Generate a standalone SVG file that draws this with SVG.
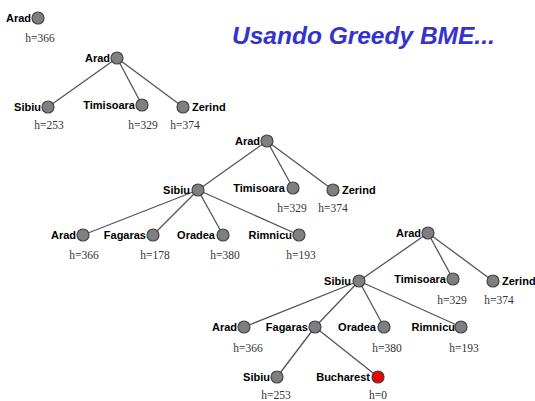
<svg xmlns="http://www.w3.org/2000/svg" width="535" height="401" viewBox="0 0 535 401">
<style>
.n{fill:#7f7f7f;stroke:#444;stroke-width:1.2}
.r{fill:#ee0000;stroke:#444;stroke-width:1.2}
.l{font-family:"Liberation Sans",Arial,sans-serif;font-weight:bold;font-size:11px;fill:#000;text-anchor:end}
.lr{font-family:"Liberation Sans",Arial,sans-serif;font-weight:bold;font-size:11px;fill:#000;text-anchor:start}
.h{font-family:"Liberation Serif","Times New Roman",serif;font-size:11.5px;fill:#333;text-anchor:middle}
.e{stroke:#555;stroke-width:1.3;fill:none}
.t{font-family:"Liberation Sans",Arial,sans-serif;font-weight:bold;font-style:italic;font-size:24.5px;fill:#3434c8}
</style>
<rect width="535" height="401" fill="#fff"/>
<text class="t" x="232" y="44">Usando Greedy BME...</text>
<g id="connectors">
<line class="e" x1="117" y1="58" x2="48" y2="107"/>
<line class="e" x1="117" y1="58" x2="142" y2="105"/>
<line class="e" x1="117" y1="58" x2="183" y2="107"/>
<line class="e" x1="267" y1="141" x2="198" y2="190"/>
<line class="e" x1="267" y1="141" x2="293" y2="188"/>
<line class="e" x1="267" y1="141" x2="333" y2="190"/>
<line class="e" x1="198" y1="190" x2="83" y2="235"/>
<line class="e" x1="198" y1="190" x2="153" y2="235"/>
<line class="e" x1="198" y1="190" x2="223" y2="235"/>
<line class="e" x1="198" y1="190" x2="299" y2="235"/>
<line class="e" x1="428" y1="233" x2="359" y2="281"/>
<line class="e" x1="428" y1="233" x2="453" y2="279"/>
<line class="e" x1="428" y1="233" x2="493" y2="281"/>
<line class="e" x1="359" y1="281" x2="244" y2="327"/>
<line class="e" x1="359" y1="281" x2="315" y2="327"/>
<line class="e" x1="359" y1="281" x2="384" y2="327"/>
<line class="e" x1="359" y1="281" x2="461" y2="327"/>
<line class="e" x1="315" y1="327" x2="277" y2="377"/>
<line class="e" x1="315" y1="327" x2="378" y2="377"/>
</g>
<g id="t1-arad"><circle class="n" cx="38" cy="18" r="6"/><text class="l" x="31" y="22">Arad</text><text class="h" x="40" y="42">h=366</text></g>
<g id="t2-arad"><circle class="n" cx="117" cy="58" r="6"/><text class="l" x="110" y="62">Arad</text></g>
<g id="t2-sibiu"><circle class="n" cx="48" cy="107" r="6"/><text class="l" x="41" y="111">Sibiu</text><text class="h" x="49" y="129">h=253</text></g>
<g id="t2-timisoara"><circle class="n" cx="142" cy="105" r="6"/><text class="l" x="135" y="109">Timisoara</text><text class="h" x="143" y="129">h=329</text></g>
<g id="t2-zerind"><circle class="n" cx="183" cy="107" r="6"/><text class="lr" x="192" y="111">Zerind</text><text class="h" x="185" y="129">h=374</text></g>
<g id="t3-arad"><circle class="n" cx="267" cy="141" r="6"/><text class="l" x="260" y="145">Arad</text></g>
<g id="t3-sibiu"><circle class="n" cx="198" cy="190" r="6"/><text class="l" x="190" y="194">Sibiu</text></g>
<g id="t3-timisoara"><circle class="n" cx="293" cy="188" r="6"/><text class="l" x="285" y="192">Timisoara</text><text class="h" x="292" y="212">h=329</text></g>
<g id="t3-zerind"><circle class="n" cx="333" cy="190" r="6"/><text class="lr" x="342" y="194">Zerind</text><text class="h" x="333" y="212">h=374</text></g>
<g id="t3-arad2"><circle class="n" cx="83" cy="235" r="6"/><text class="l" x="76" y="239">Arad</text><text class="h" x="84" y="259">h=366</text></g>
<g id="t3-fagaras"><circle class="n" cx="153" cy="235" r="6"/><text class="l" x="146" y="239">Fagaras</text><text class="h" x="155" y="259">h=178</text></g>
<g id="t3-oradea"><circle class="n" cx="223" cy="235" r="6"/><text class="l" x="215" y="239">Oradea</text><text class="h" x="225" y="259">h=380</text></g>
<g id="t3-rimnicu"><circle class="n" cx="299" cy="235" r="6"/><text class="l" x="292" y="239">Rimnicu</text><text class="h" x="301" y="259">h=193</text></g>
<g id="t4-arad"><circle class="n" cx="428" cy="233" r="6"/><text class="l" x="421" y="237">Arad</text></g>
<g id="t4-sibiu"><circle class="n" cx="359" cy="281" r="6"/><text class="l" x="351" y="285">Sibiu</text></g>
<g id="t4-timisoara"><circle class="n" cx="453" cy="279" r="6"/><text class="l" x="446" y="283">Timisoara</text><text class="h" x="452" y="304">h=329</text></g>
<g id="t4-zerind"><circle class="n" cx="493" cy="281" r="6"/><text class="lr" x="502" y="285">Zerind</text><text class="h" x="499" y="304">h=374</text></g>
<g id="t4-arad2"><circle class="n" cx="244" cy="327" r="6"/><text class="l" x="237" y="331">Arad</text><text class="h" x="248" y="352">h=366</text></g>
<g id="t4-fagaras"><circle class="n" cx="315" cy="327" r="6"/><text class="l" x="308" y="331">Fagaras</text></g>
<g id="t4-oradea"><circle class="n" cx="384" cy="327" r="6"/><text class="l" x="376" y="331">Oradea</text><text class="h" x="387" y="352">h=380</text></g>
<g id="t4-rimnicu"><circle class="n" cx="461" cy="327" r="6"/><text class="l" x="455" y="331">Rimnicu</text><text class="h" x="464" y="352">h=193</text></g>
<g id="t4-sibiu2"><circle class="n" cx="277" cy="377" r="6"/><text class="l" x="270" y="381">Sibiu</text><text class="h" x="276" y="399">h=253</text></g>
<g id="t4-bucharest"><circle class="r" cx="378" cy="377" r="6"/><text class="l" x="370" y="381">Bucharest</text><text class="h" x="378" y="399">h=0</text></g>
</svg>
